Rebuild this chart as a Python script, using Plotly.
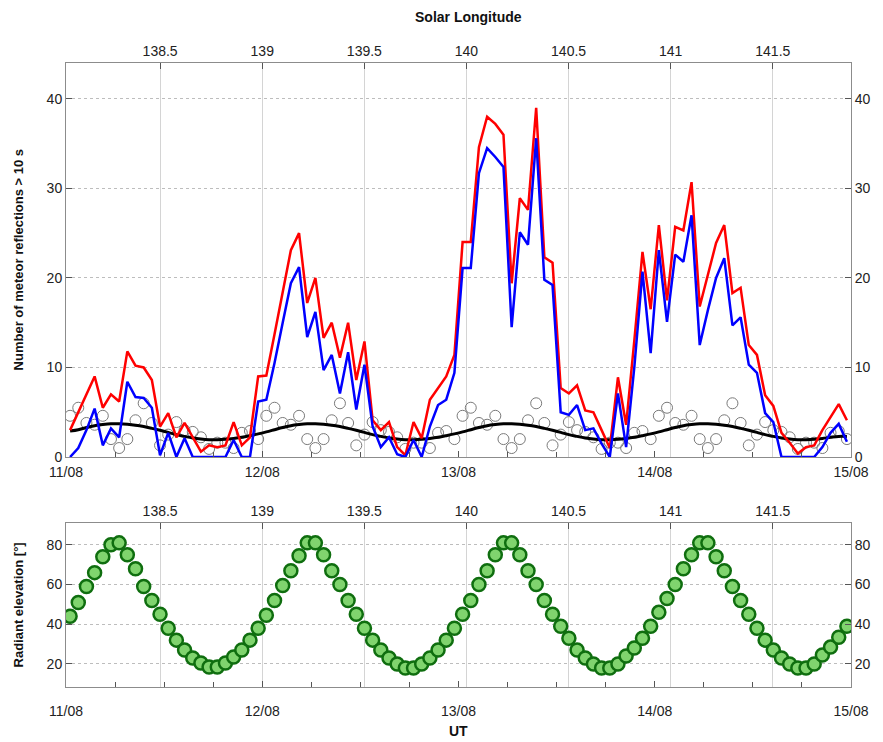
import numpy as np
import plotly.graph_objects as go

# ---------------- data ----------------
hours_ut = np.arange(96) + 0.5  # hourly bins, hours since 11/08 00:00 UT

red_counts = [
    3.0, 5.0, 7.0, 9.0, 5.5, 7.0, 6.2, 11.8, 10.2, 10.0, 8.6, 3.4, 4.9, 2.2, 3.8, 2.2, 0.6, 1.3, 1.1, 1.3, 3.9, 1.3, 2.2, 9.0,
    9.1, 13.7, 18.4, 23.1, 25.0, 17.2, 20.0, 13.3, 15.0, 11.1, 15.0, 8.6, 12.9, 4.1, 3.0, 3.9, 1.1, 0.2, 3.9, 2.1, 6.4, 7.7, 9.0, 11.4,
    24.0, 24.0, 34.6, 38.0, 37.2, 36.0, 19.4, 28.9, 27.6, 39.0, 22.3, 21.7, 7.7, 7.1, 8.0, 5.2, 5.0, 3.0, 1.0, 8.9, 3.6, 13.0, 22.9, 16.5,
    25.9, 17.5, 25.7, 25.3, 30.7, 16.8, 20.3, 23.9, 25.9, 18.3, 18.9, 12.5, 11.4, 6.9, 5.7, 2.7, 1.6, 0.4, 1.1, 1.3, 3.0, 4.5, 5.9, 4.1,
]
blue_counts = [
    0.0, 1.0, 3.0, 5.4, 1.3, 3.2, 2.2, 8.4, 6.7, 6.6, 5.5, 0.2, 2.7, 0.0, 2.1, 0.0, 0.0, 0.0, 0.0, 0.0, 1.9, 0.0, 0.0, 6.2,
    6.4, 10.5, 15.0, 19.4, 21.2, 13.4, 16.2, 9.7, 11.4, 7.1, 11.7, 5.3, 10.3, 3.4, 1.1, 2.2, 0.3, 0.0, 1.9, 0.0, 3.4, 5.8, 6.4, 9.4,
    21.1, 21.1, 31.7, 34.5, 33.5, 32.4, 14.5, 25.1, 23.7, 35.6, 19.8, 19.2, 5.0, 4.7, 5.8, 3.0, 3.2, 1.5, 0.0, 7.1, 1.1, 10.0, 20.7, 11.6,
    23.1, 15.1, 22.6, 21.8, 27.0, 12.5, 16.4, 20.0, 22.2, 14.7, 15.6, 10.3, 9.4, 4.9, 3.9, 0.0, 0.0, 0.0, 0.0, 0.0, 1.1, 2.7, 3.7, 1.7,
]
sporadic_counts = [
    4.6, 5.5, 3.8, 3.6, 4.6, 2.0, 1.0, 2.0, 4.1, 6.0, 3.8, 1.3, 2.5, 3.9, 3.0, 2.8, 2.2, 0.9, 1.6, 1.6, 1.0, 2.7, 2.9, 2.0,
    4.6, 5.5, 3.8, 3.6, 4.6, 2.0, 1.0, 2.0, 4.1, 6.0, 3.8, 1.3, 2.5, 3.9, 3.0, 2.8, 2.2, 0.9, 1.6, 1.6, 1.0, 2.7, 2.9, 2.0,
    4.6, 5.5, 3.8, 3.6, 4.6, 2.0, 1.0, 2.0, 4.1, 6.0, 3.8, 1.3, 2.5, 3.9, 3.0, 2.8, 2.2, 0.9, 1.6, 1.6, 1.0, 2.7, 2.9, 2.0,
    4.6, 5.5, 3.8, 3.6, 4.6, 2.0, 1.0, 2.0, 4.1, 6.0, 3.8, 1.3, 2.5, 3.9, 3.0, 2.8, 2.2, 0.9, 1.6, 1.6, 1.0, 2.7, 2.9, 2.0,
]
sporadic_fit = [
    2.9, 3.05, 3.3, 3.5, 3.62, 3.7, 3.7, 3.65, 3.55, 3.4, 3.2, 2.98, 2.75, 2.5, 2.3, 2.12, 2.0, 1.93, 1.92, 1.97, 2.07, 2.2, 2.38, 2.58,
    2.8, 3.05, 3.3, 3.5, 3.62, 3.7, 3.7, 3.65, 3.55, 3.4, 3.2, 2.98, 2.75, 2.5, 2.3, 2.12, 2.0, 1.93, 1.92, 1.97, 2.07, 2.2, 2.38, 2.58,
    2.8, 3.05, 3.3, 3.5, 3.62, 3.7, 3.7, 3.65, 3.55, 3.4, 3.2, 2.98, 2.75, 2.5, 2.3, 2.12, 2.0, 1.93, 1.92, 1.97, 2.07, 2.2, 2.38, 2.58,
    2.8, 3.05, 3.3, 3.5, 3.62, 3.7, 3.7, 3.65, 3.55, 3.4, 3.2, 2.98, 2.75, 2.5, 2.3, 2.12, 2.0, 1.93, 1.92, 1.97, 2.07, 2.2, 2.3, 2.3,
]
radiant_elev = [
    44, 51, 59, 66, 74, 80, 81, 75, 68, 59, 52, 45, 38, 32, 27, 23, 20.5, 18.5, 18.5, 20.5, 23.5, 27, 32, 38,
    44.5, 52, 59.5, 67, 74.5, 81, 81, 75, 67, 60, 52, 45, 38, 32, 27, 23, 20, 18, 18, 20, 23, 27, 32, 38,
    45, 52, 60, 67, 75, 81, 81, 75, 67, 60, 52, 45, 39, 33, 27, 23, 20, 18, 18, 20, 24, 28, 33, 39,
    46, 53, 60, 68, 75, 81, 81, 74, 67, 59, 52, 45, 38, 32, 27, 23, 20, 18, 18, 20, 24.5, 28.5, 33.5, 39,
]
day_ticks = [0, 24, 48, 72, 96]
day_labels = ["11/08", "12/08", "13/08", "14/08", "15/08"]
sl_range = [138.039, 141.883]

# ---------------- figure ----------------
fig = go.Figure()

fig.add_trace(go.Scatter(x=hours_ut, y=sporadic_counts, mode="markers",
                         marker=dict(symbol="circle-open", size=11, color="#7a7a7a",
                                     line=dict(width=1)),
                         xaxis="x", yaxis="y", showlegend=False))
fig.add_trace(go.Scatter(x=hours_ut, y=sporadic_fit, mode="lines",
                         line=dict(color="black", width=3, shape="spline"),
                         xaxis="x", yaxis="y", showlegend=False))
fig.add_trace(go.Scatter(x=hours_ut, y=red_counts, mode="lines",
                         line=dict(color="#ff0000", width=2.5),
                         xaxis="x", yaxis="y", showlegend=False))
fig.add_trace(go.Scatter(x=hours_ut, y=blue_counts, mode="lines",
                         line=dict(color="#0000ff", width=2.5),
                         xaxis="x", yaxis="y", showlegend=False))

fig.add_trace(go.Scatter(x=hours_ut, y=radiant_elev, mode="markers",
                         marker=dict(symbol="circle", size=13, color="#80d46e",
                                     line=dict(width=2.5, color="#0f6e0f")),
                         xaxis="x3", yaxis="y3", showlegend=False))

tick_font = dict(family="Liberation Sans, Arial, sans-serif", size=14, color="#222222")
axis_line = dict(showline=True, linecolor="#8c8c8c", linewidth=1)

top_dom = [0.3686, 1.0]
bot_dom = [0.0, 0.2628]

common_x = dict(range=[0, 96], tickmode="array", tickvals=day_ticks, ticktext=day_labels,
                ticks="inside", ticklen=6, tickcolor="#555555", showgrid=False, zeroline=False,
                tickfont=tick_font,
                minor=dict(dtick=6, tick0=0, ticks="inside", ticklen=5, tickcolor="#555555", showgrid=False),
                **axis_line)
common_sl = dict(range=sl_range, tick0=138.5, dtick=0.5, side="top",
                 ticks="inside", ticklen=6, tickcolor="#555555",
                 showgrid=True, gridcolor="#d4d4d4", gridwidth=1, zeroline=False,
                 tickfont=tick_font, **axis_line)

fig.update_layout(
    width=883, height=742,
    margin=dict(l=66, r=29, t=63, b=55),
    plot_bgcolor="white", paper_bgcolor="white",
    xaxis=dict(domain=[0, 1], anchor="y", ticklabelstandoff=2, **common_x),
    xaxis2=dict(overlaying="x", anchor="y", **common_sl),
    yaxis=dict(domain=top_dom, anchor="x", range=[0, 44], tickvals=[0, 10, 20, 30, 40],
               ticks="inside", ticklen=6, tickcolor="#555555",
               showgrid=True, gridcolor="#bdbdbd", griddash="dot", zeroline=False,
               tickfont=tick_font, **axis_line),
    yaxis2=dict(overlaying="y", side="right", anchor="x", range=[0, 44], tickvals=[0, 10, 20, 30, 40],
                ticks="inside", ticklen=6, tickcolor="#555555", showgrid=False, zeroline=False,
                tickfont=tick_font, **axis_line),
    xaxis3=dict(domain=[0, 1], anchor="y3", ticklabelstandoff=11, **common_x),
    xaxis4=dict(overlaying="x3", anchor="y3", **common_sl),
    yaxis3=dict(domain=bot_dom, anchor="x3", range=[8.4, 91], tickvals=[20, 40, 60, 80],
                ticks="inside", ticklen=6, tickcolor="#555555",
                showgrid=True, gridcolor="#bdbdbd", griddash="dot", zeroline=False,
                tickfont=tick_font, **axis_line),
    yaxis4=dict(overlaying="y3", side="right", anchor="x3", range=[8.4, 91], tickvals=[20, 40, 60, 80],
                ticks="inside", ticklen=6, tickcolor="#555555", showgrid=False, zeroline=False,
                tickfont=tick_font, **axis_line),
)

# invisible traces to activate secondary axes
fig.add_trace(go.Scatter(x=[139], y=[None], xaxis="x2", yaxis="y2", showlegend=False, hoverinfo="skip"))
fig.add_trace(go.Scatter(x=[139], y=[None], xaxis="x4", yaxis="y4", showlegend=False, hoverinfo="skip"))

title_font = dict(family="Liberation Sans, Arial, sans-serif", size=14, color="#111111")
fig.add_annotation(text="<b>Solar Longitude</b>", x=0.5127, y=1.0737, xref="paper", yref="paper",
                   showarrow=False, font=title_font, xanchor="center", yanchor="middle")
fig.add_annotation(text="<b>UT</b>", x=0.5, y=-0.0705, xref="paper", yref="paper",
                   showarrow=False, font=title_font, xanchor="center", yanchor="middle")
fig.add_annotation(text="<b>Number of meteor reflections > 10 s</b>", x=-0.0609, y=0.684,
                   xref="paper", yref="paper", showarrow=False, textangle=-90,
                   font=dict(family="Liberation Sans, Arial, sans-serif", size=13, color="#111111"),
                   xanchor="center", yanchor="middle")
fig.add_annotation(text="<b>Radiant elevation [°]</b>", x=-0.0609, y=0.131,
                   xref="paper", yref="paper", showarrow=False, textangle=-90,
                   font=dict(family="Liberation Sans, Arial, sans-serif", size=13, color="#111111"),
                   xanchor="center", yanchor="middle")

fig.write_html("out.html")
